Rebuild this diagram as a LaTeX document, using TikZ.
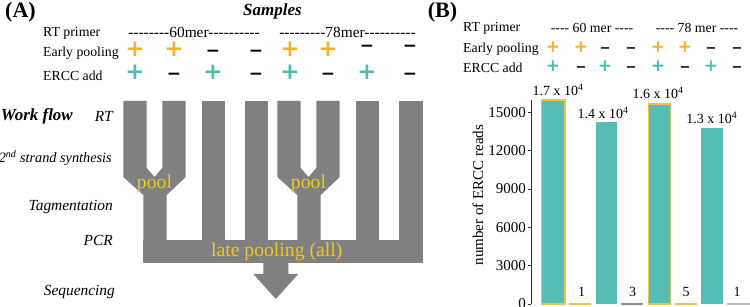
\documentclass[tikz,border=0pt]{standalone}
\usepackage{fontspec}
\setmainfont{Liberation Serif}[Ligatures=TeXOff]
\newfontfamily\signfont{DejaVu Sans}
\usetikzlibrary{positioning}
\definecolor{flowgray}{HTML}{808080}
\definecolor{poolyel}{HTML}{EBC824}
\definecolor{sgnorange}{HTML}{F5B131}
\definecolor{sgnteal}{HTML}{4DBDB0}
\definecolor{barteal}{HTML}{55BDB3}
\definecolor{barrim}{HTML}{F0C04C}
\definecolor{lowgray}{gray}{0.55}
\tikzset{
  paneltag/.style  = {font=\fontsize{22}{24}\selectfont\bfseries, inner sep=0pt},
  headbig/.style   = {font=\fontsize{17}{19}\selectfont\bfseries\itshape,
                      inner sep=0pt},
  rowlabel/.style  = {font=\fontsize{13.8}{16}\selectfont, inner sep=0pt,
                      anchor=west},
  rowtext/.style   = {font=\fontsize{13.8}{16}\selectfont, inner sep=0pt},
  steplabel/.style = {font=\fontsize{15.4}{18}\selectfont\itshape,
                      inner sep=0pt, anchor=east},
  poollabel/.style = {font=\fontsize{19.7}{22}\selectfont, text=poolyel,
                      inner sep=0pt},
  flowfill/.style  = {fill=flowgray},
  signA/.style     = {font=\signfont\bfseries\fontsize{23}{23}\selectfont,
                      inner sep=0pt, text height=0.72em, text depth=0pt},
  signB/.style     = {font=\signfont\bfseries\fontsize{17}{17}\selectfont,
                      inner sep=0pt, text height=0.72em, text depth=0pt},
  oplA/.style      = {signA, text=sgnorange},
  tplA/.style      = {signA, text=sgnteal},
  mnA/.style       = {signA, font=\signfont\bfseries\fontsize{17}{17}\selectfont},
  oplB/.style      = {signB, text=sgnorange},
  tplB/.style      = {signB, text=sgnteal},
  mnB/.style       = {signB, font=\signfont\bfseries\fontsize{13}{13}\selectfont},
  axisline/.style  = {draw=black!80, line width=0.8pt},
  ticklabel/.style = {font=\fontsize{15}{17}\selectfont, inner sep=0pt,
                      anchor=east},
  vallabel/.style  = {font=\fontsize{14}{16}\selectfont, inner sep=0pt},
  bighit/.style    = {fill=barteal},
  rimhit/.style    = {draw=barrim, line width=1.4pt},
}

\begin{document}
\begin{tikzpicture}[x=1pt, y=-1pt]
  \useasboundingbox (0,0) rectangle (750,307);
  % ---- panel A: samples
  \node[paneltag] (tagA) at (20.5,12) {(A)};
  \node[headbig] (samples) at (272.5,11) {Samples};
  \node[rowlabel] (primerA) at (43,33) {RT primer};
  \node[rowlabel] (earlyA) at (43,53) {Early pooling};
  \node[rowlabel] (erccA) at (43,76) {ERCC add};
  \node[rowtext, font=\fontsize{15.4}{18}\selectfont] (mer60A) at (194,32)
    {--------60mer----------};
  \node[rowtext, font=\fontsize{15.4}{18}\selectfont] (mer78A) at (347.5,32)
    {---------78mer----------};
  \foreach \n/\x/\y/\kind/\g in {1/135/53/oplA/+, 2/174/53/oplA/+,
      3/213/53/mnA/−, 4/256/53/mnA/−, 5/290/53/oplA/+, 6/328/53/oplA/+,
      7/367/48/mnA/−, 8/410/48/mnA/−}
    \node[\kind] (poolA\n) at (\x,\y) {\g};
  \foreach \n/\x/\kind/\g in {1/135/tplA/+, 2/174/mnA/−, 3/213/tplA/+,
      4/256/mnA/−, 5/290/tplA/+, 6/328/mnA/−, 7/367/tplA/+, 8/410/mnA/−}
    \node[\kind] (erccA\n) at (\x,76) {\g};
  % ---- panel A: work flow
  \node[headbig, anchor=west] (workflow) at (0.7,116) {Work flow};
  \node[steplabel] (stRT) at (113,116) {RT};
  \node[steplabel, font=\fontsize{14.3}{17}\selectfont\itshape] (stSecond)
    at (112,158) {2\textsuperscript{nd} strand synthesis};
  \node[steplabel] (stTag) at (113,207) {Tagmentation};
  \node[steplabel] (stPCR) at (113,240) {PCR};
  \node[steplabel] (stSeq) at (115,292) {Sequencing};
  \fill[flowfill] (123.3,101) -- (146.7,101) -- (146.7,168) -- (154.5,177)
    -- (162.3,168) -- (162.3,101) -- (185.7,101) -- (185.7,177) -- (166.7,195)
    -- (166.7,241) -- (143.3,241) -- (143.3,195) -- (123.3,177) -- cycle;
  \fill[flowfill] (277.3,101) -- (300.7,101) -- (300.7,168) -- (308.5,177)
    -- (316.3,168) -- (316.3,101) -- (339.7,101) -- (339.7,177) -- (320.7,195)
    -- (320.7,241) -- (297.3,241) -- (297.3,195) -- (277.3,177) -- cycle;
  \foreach \x in {201.7,245,356,399.3}
    \fill[flowfill] (\x,101) rectangle ++(23.3,140);
  \fill[flowfill] (143.3,240) rectangle (422.6,263.3);
  \fill[flowfill] (263.3,263) -- (288.3,263) -- (288.3,274) -- (298.3,274)
    -- (275.8,299) -- (253.3,274) -- (263.3,274) -- cycle;
  \node[poollabel] (poolL) at (154.5,184) {pool};
  \node[poollabel] (poolR) at (308.5,184) {pool};
  \node[poollabel] (late) at (276.7,252) {late pooling (all)};
  % ---- panel B: samples
  \node[paneltag] (tagB) at (442.5,12) {(B)};
  \node[rowlabel] (primerB) at (463,28) {RT primer};
  \node[rowlabel] (earlyB) at (463,49) {Early pooling};
  \node[rowlabel] (erccB) at (463,68) {ERCC add};
  \node[rowtext] (mer60B) at (592,28) {---- 60 mer ----};
  \node[rowtext] (mer78B) at (697,28) {---- 78 mer ----};
  \foreach \n/\x/\kind/\g in {1/553/oplB/+, 2/581/oplB/+, 3/605/mnB/−,
      4/631/mnB/−, 5/658/oplB/+, 6/685/oplB/+, 7/711/mnB/−, 8/737/mnB/−}
    \node[\kind] (poolB\n) at (\x,49) {\g};
  \foreach \n/\x/\kind/\g in {1/553/tplB/+, 2/581/mnB/−, 3/605/tplB/+,
      4/631/mnB/−, 5/658/tplB/+, 6/685/mnB/−, 7/711/tplB/+, 8/737/mnB/−}
    \node[\kind] (erccB\n) at (\x,68) {\g};
  % ---- panel B: ERCC reads (in thousands)
  \begin{scope}[shift={(0,304)}, y=12.78pt]
    \fill[bighit] (541.7,0) rectangle (565,15.96);
    \draw[rimhit] (541.7,0) rectangle (565,15.96);
    \draw[rimhit, line width=1.2pt] (569.3,0) rectangle (590.7,0.06);
    \fill[bighit] (595.7,0) rectangle (616.7,14.27);
    \draw[lowgray, line width=1.2pt] (621.7,0) rectangle (642.7,0.06);
    \fill[bighit] (648.3,0) rectangle (670.7,15.65);
    \draw[rimhit] (648.3,0) rectangle (670.7,15.65);
    \draw[rimhit, line width=1.2pt] (675.7,0) rectangle (696.7,0.06);
    \fill[bighit] (700.7,0) rectangle (722.7,13.75);
    \draw[lowgray!60, line width=1.2pt] (727.3,0) rectangle (749.3,0.06);
    \draw[axisline] (531,0) -- (531,15.96);
    \foreach \v/\lab in {0/0, 3/3000, 6/6000, 9/9000, 12/12000, 15/15000} {
      \draw[axisline] (531,\v) -- (527.5,\v);
      \node[ticklabel] (tick\v) at (526,\v) {\lab};
    }
  \end{scope}
  \node[font=\fontsize{15}{17}\selectfont, inner sep=0pt, rotate=90]
    (ylab) at (478,195) {number of ERCC reads};
  \node[vallabel] (val1) at (558,90) {1.7 x 10\textsuperscript{4}};
  \node[vallabel] (val3) at (603,113) {1.4 x 10\textsuperscript{4}};
  \node[vallabel] (val5) at (658,93) {1.6 x 10\textsuperscript{4}};
  \node[vallabel] (val7) at (711.7,118) {1.3 x 10\textsuperscript{4}};
  \node[vallabel] (val2) at (581.7,292) {1};
  \node[vallabel] (val4) at (632.7,292) {3};
  \node[vallabel] (val6) at (686,292) {5};
  \node[vallabel] (val8) at (737,292) {1};
\end{tikzpicture}
\end{document}
